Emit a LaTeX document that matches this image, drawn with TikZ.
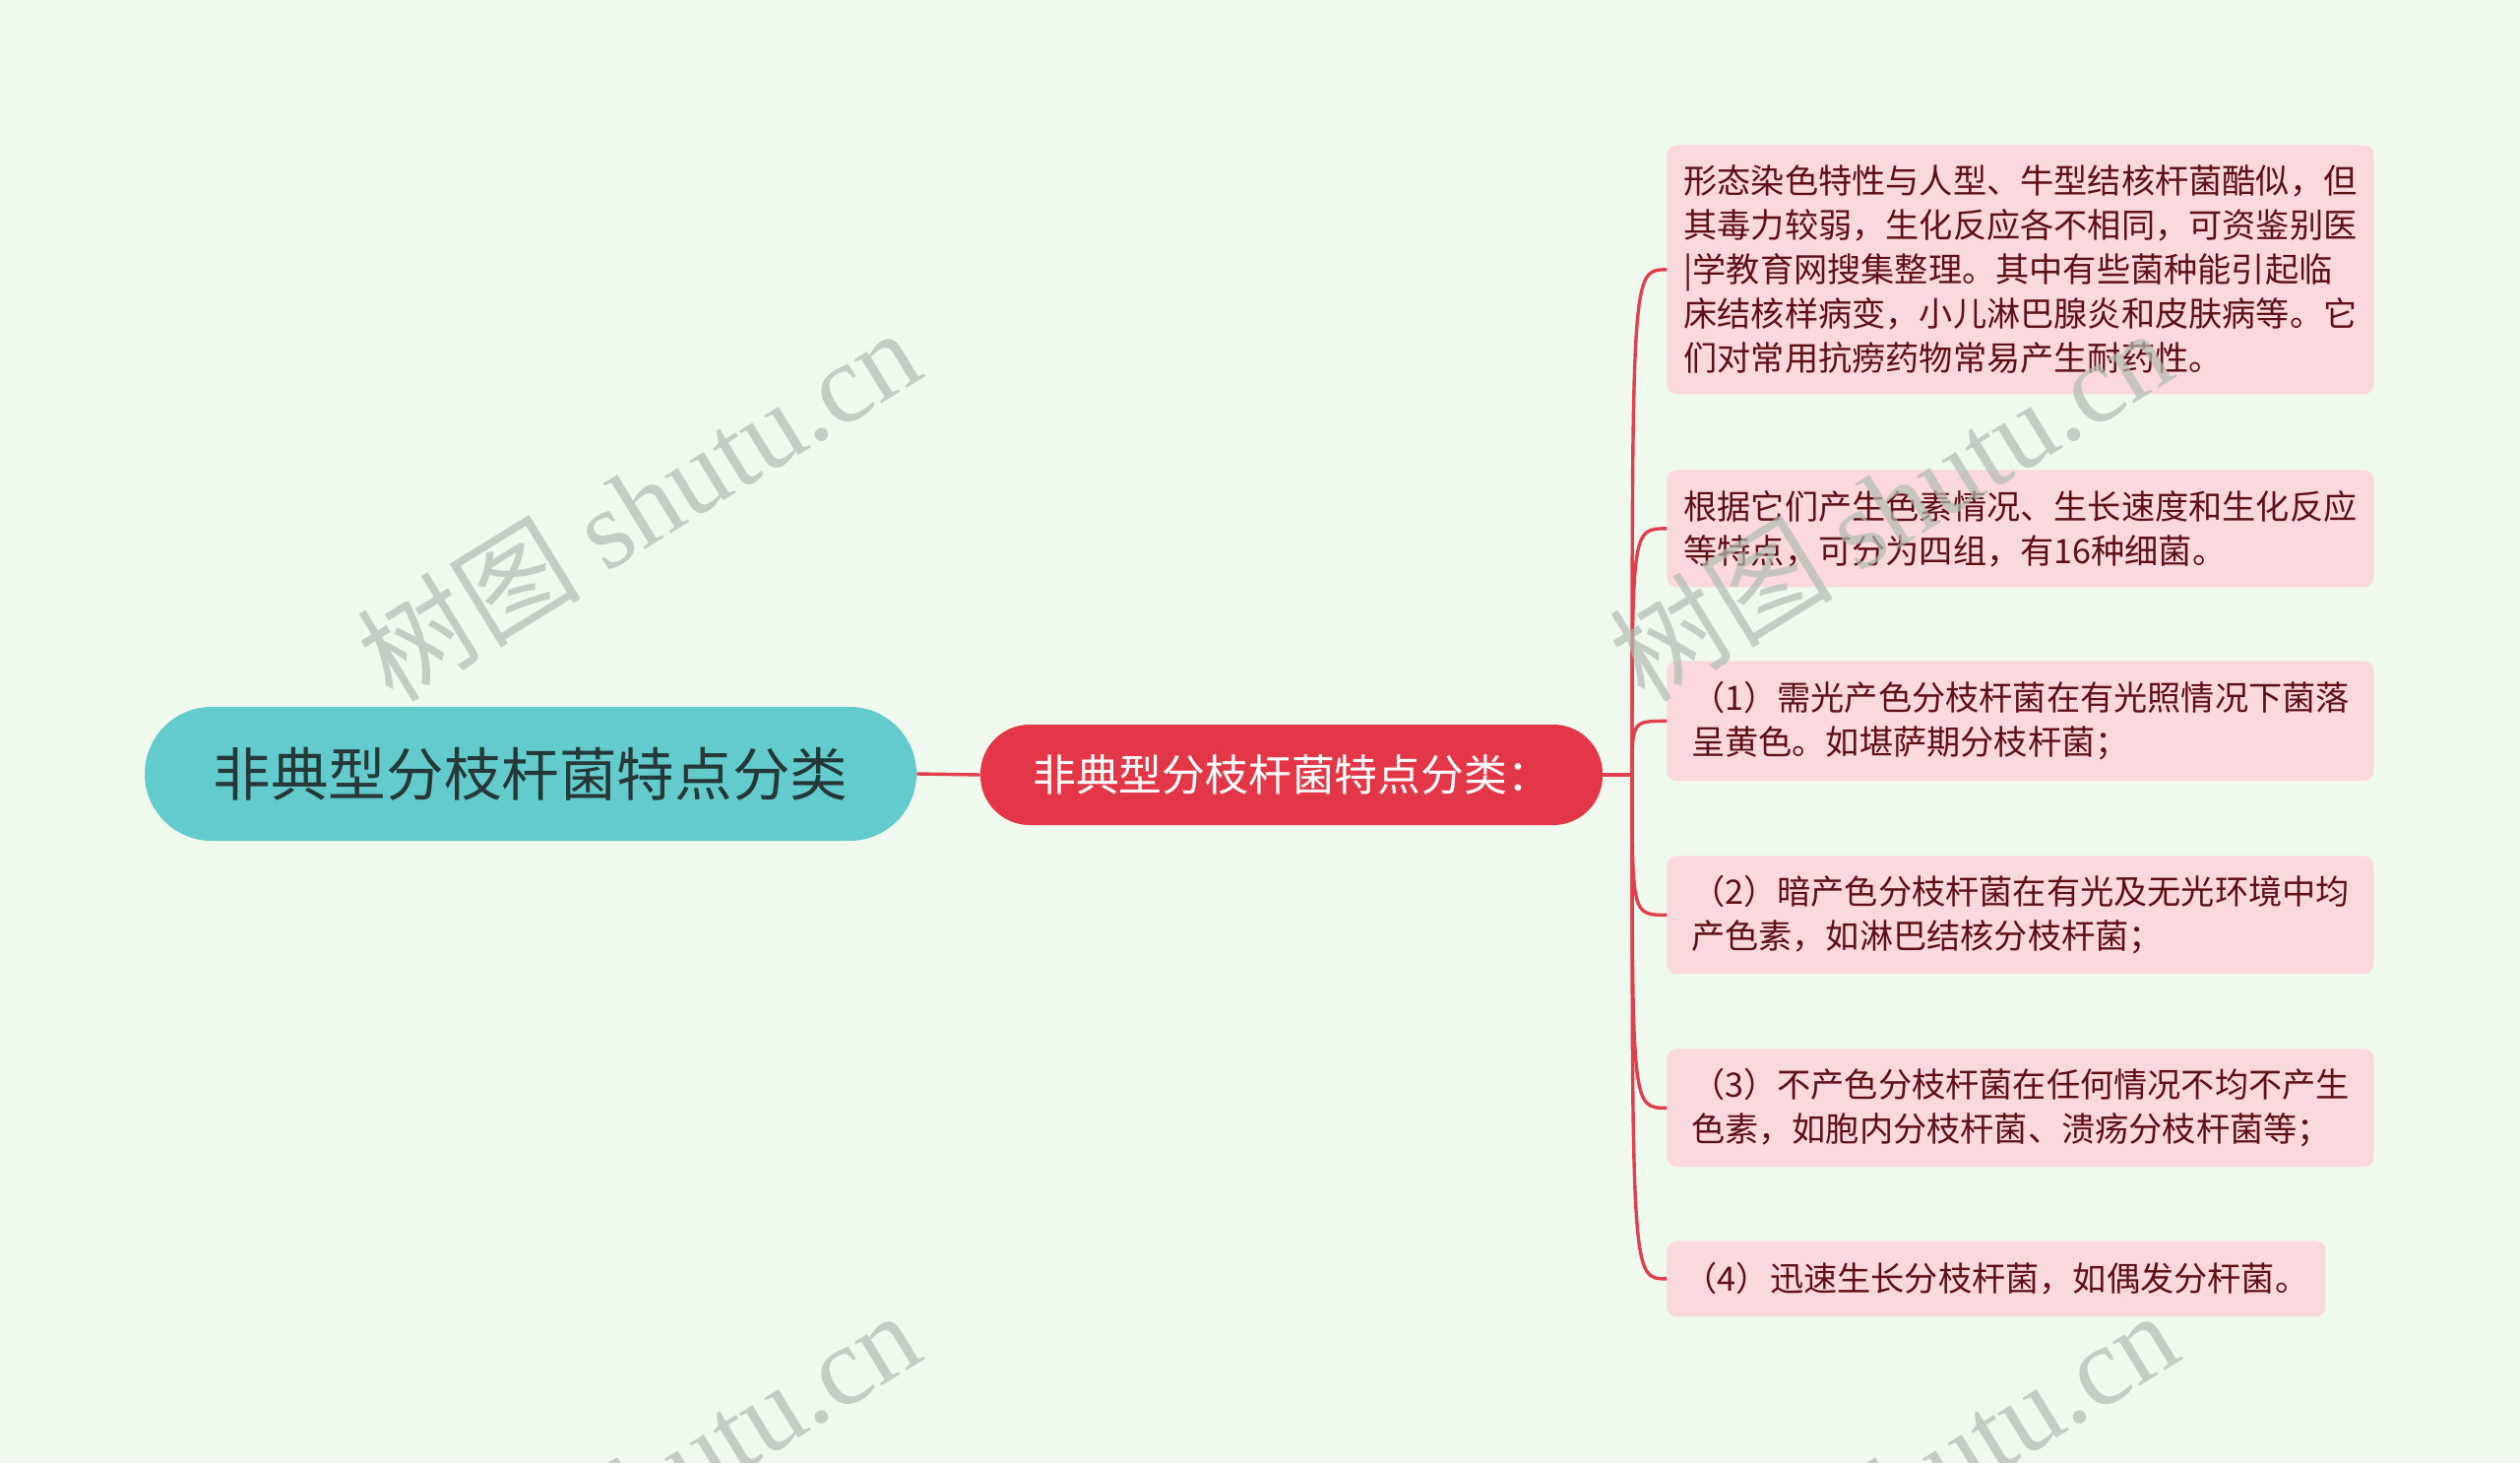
\documentclass[tikz,border=0pt]{standalone}
\usepackage{fontspec}
\newfontfamily\cjk{Noto Sans CJK SC}
\newfontfamily\wmserif{Liberation Serif}
\definecolor{bg}{HTML}{F0F9EE}
\definecolor{rootfill}{HTML}{63CBCB}
\definecolor{roottext}{HTML}{263838}
\definecolor{subfill}{HTML}{E33747}
\definecolor{linkred}{HTML}{E0404D}
\definecolor{leaffill}{HTML}{F9D9DD}
\definecolor{leaftext}{HTML}{5E1016}
\definecolor{wmgray}{HTML}{B2BBB3}
\tikzset{
  rootbox/.style={fill=rootfill, rounded corners=34pt, minimum width=392pt, minimum height=68pt, inner sep=0pt,
    text=roottext, font=\cjk\fontsize{29.3pt}{34pt}\selectfont},
  subbox/.style={fill=subfill, rounded corners=25pt, minimum width=316pt, minimum height=51pt, inner sep=0pt,
    text=white, font=\cjk\fontsize{21.9pt}{26pt}\selectfont},
  leafbox/.style={fill=leaffill, rounded corners=5pt, anchor=north west, align=left, inner sep=0pt,
    text=leaftext, font=\cjk\fontsize{17.1pt}{22.5pt}\selectfont},
  link/.style={draw=linkred, line width=1.7pt},
  wmark/.style={text=wmgray, opacity=0.7, rotate=31.6, inner sep=0pt}
}
\begin{document}
\begin{tikzpicture}[x=0.5pt,y=-0.5pt]
\fill[bg] (0,0) rectangle (2560,1486);
\useasboundingbox (0,0) rectangle (2560,1486);

\node[rootbox] (root) at (539,786) {非典型分枝杆菌特点分类};
\node[subbox] (sub) at (1312,787) {非典型分枝杆菌特点分类：};

\node[leafbox, minimum width=359pt, minimum height=126.5pt] (l1) at (1693,147)
 {形态染色特性与人型、牛型结核杆菌酷似，但\\其毒力较弱，生化反应各不相同，可资鉴别医\\|学教育网搜集整理。其中有些菌种能引起临\\床结核样病变，小儿淋巴腺炎和皮肤病等。它\\们对常用抗痨药物常易产生耐药性。};
\node[leafbox, minimum width=359pt, minimum height=59.5pt] (l2) at (1693,477)
 {根据它们产生色素情况、生长速度和生化反应\\等特点，可分为四组，有16种细菌。};
\node[leafbox, minimum width=359pt, minimum height=61pt] (l3) at (1693,671)
 {（1）需光产色分枝杆菌在有光照情况下菌落\\呈黄色。如堪萨期分枝杆菌；};
\node[leafbox, minimum width=359pt, minimum height=60pt] (l4) at (1693,869)
 {（2）暗产色分枝杆菌在有光及无光环境中均\\产色素，如淋巴结核分枝杆菌；};
\node[leafbox, minimum width=359pt, minimum height=60pt] (l5) at (1693,1065)
 {（3）不产色分枝杆菌在任何情况不均不产生\\色素，如胞内分枝杆菌、溃疡分枝杆菌等；};
\node[leafbox, minimum width=334.5pt, minimum height=38.5pt] (l6) at (1693,1260)
 {（4）迅速生长分枝杆菌，如偶发分杆菌。};

\coordinate (j) at (1658,787);
\draw[link] (root.east) -- (sub.west);
\draw[link] (sub.east) -- (j);
\foreach \L in {l1,l2,l3,l4,l5,l6}{
  \draw[link] (j) .. controls (j |- \L.west) .. (\L.west);
}

\node[wmark] (w1) at (648,512) {\fontsize{57pt}{60pt}\selectfont\cjk 树图 \wmserif shutu.cn};
\node[wmark] (w2) at (1920,512) {\fontsize{57pt}{60pt}\selectfont\cjk 树图 \wmserif shutu.cn};
\node[wmark] (w3) at (648,1510) {\fontsize{57pt}{60pt}\selectfont\cjk 树图 \wmserif shutu.cn};
\node[wmark] (w4) at (1926,1510) {\fontsize{57pt}{60pt}\selectfont\cjk 树图 \wmserif shutu.cn};
\end{tikzpicture}
\end{document}
